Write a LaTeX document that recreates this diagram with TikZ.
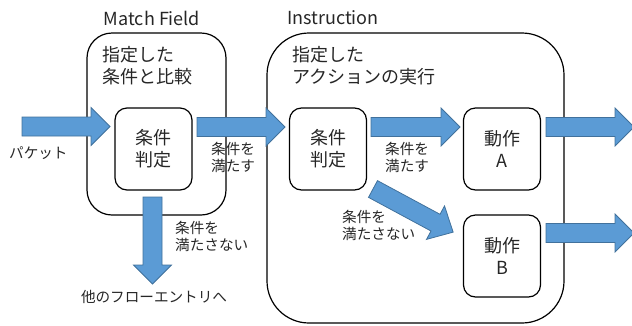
\documentclass[tikz,border=0pt]{standalone}
\usepackage{fontspec}
\setmainfont{Noto Sans CJK JP}
\definecolor{arrowfill}{HTML}{5B9BD5}
\definecolor{arrowline}{HTML}{41719C}
\definecolor{txt}{HTML}{262626}
\newcommand{\fatarrow}[5]{% x, y, angle, length, head length
  \begin{scope}[shift={(#1,#2)},rotate=#3]
    \filldraw[fatarrowsty] (0,-9.5) -- ({#4-#5},-9.5) -- ({#4-#5},-19) -- (#4,0) -- ({#4-#5},19) -- ({#4-#5},9.5) -- (0,9.5) -- cycle;
  \end{scope}}
\begin{document}
\begin{tikzpicture}[x=1bp,y=-1bp,
  fatarrowsty/.style={fill=arrowfill,draw=arrowline,line width=0.8bp,line join=miter},
  outerbox/.style={draw=black,line width=1.2bp,rectangle,inner sep=0pt},
  innerbox/.style={draw=black,line width=1.2bp,rectangle,rounded corners=12bp,minimum width=77bp,minimum height=82bp,inner sep=0pt,align=center,font=\fontsize{18bp}{22bp}\selectfont,text=txt},
  title/.style={font=\fontsize{18bp}{22bp}\selectfont,text=txt,inner sep=0pt},
  desc/.style={font=\fontsize{18bp}{22bp}\selectfont,text=txt,align=left,inner sep=0pt,anchor=north west},
  small/.style={font=\fontsize{14.6bp}{17bp}\selectfont,text=txt,align=left,inner sep=0pt}]
\useasboundingbox (0,0) rectangle (632,325);
% outer boxes
\node[outerbox,rounded corners=25bp,minimum width=139bp,minimum height=182bp] (mf) at (156.5,124) {};
\node[outerbox,rounded corners=42bp,minimum width=297bp,minimum height=290bp] (ins) at (415.5,178) {};
% titles
\node[title] (mft) at (152,18) {Match Field};
\node[title,anchor=west] (inst) at (287,18) {Instruction};
% descriptions
\node[desc] (mfd) at (102,46) {指定した\\条件と比較};
\node[desc] (insd) at (292,46) {指定した\\アクションの実行};
% inner boxes
\node[innerbox] (j1) at (153.5,149) {条件\\判定};
\node[innerbox] (j2) at (328,149) {条件\\判定};
\node[innerbox] (a) at (502,149) {動作\\A};
\node[innerbox] (b) at (502,256) {動作\\B};
% arrows
\fatarrow{22}{126.5}{0}{88}{19}
\fatarrow{197}{127}{0}{88}{19}
\fatarrow{371}{127}{0}{89}{19}
\fatarrow{546}{127}{0}{88}{19}
\fatarrow{546}{233}{0}{88}{19}
\fatarrow{152.5}{197}{-90}{87}{19}
\fatarrow{373}{189}{-28.3}{91}{20}
% labels
\node[small,anchor=west] (pk) at (9,153) {パケット};
\node[small,anchor=north west] (l1) at (211,142) {条件を\\満たす};
\node[small,anchor=north west] (l2) at (175,221) {条件を\\満たさない};
\node[small] (other) at (154,297) {他のフローエントリへ};
\node[small,anchor=north west] (l3) at (385,142) {条件を\\満たす};
\node[small,anchor=north west] (l4) at (342,210) {条件を\\満たさない};
\end{tikzpicture}
\end{document}
